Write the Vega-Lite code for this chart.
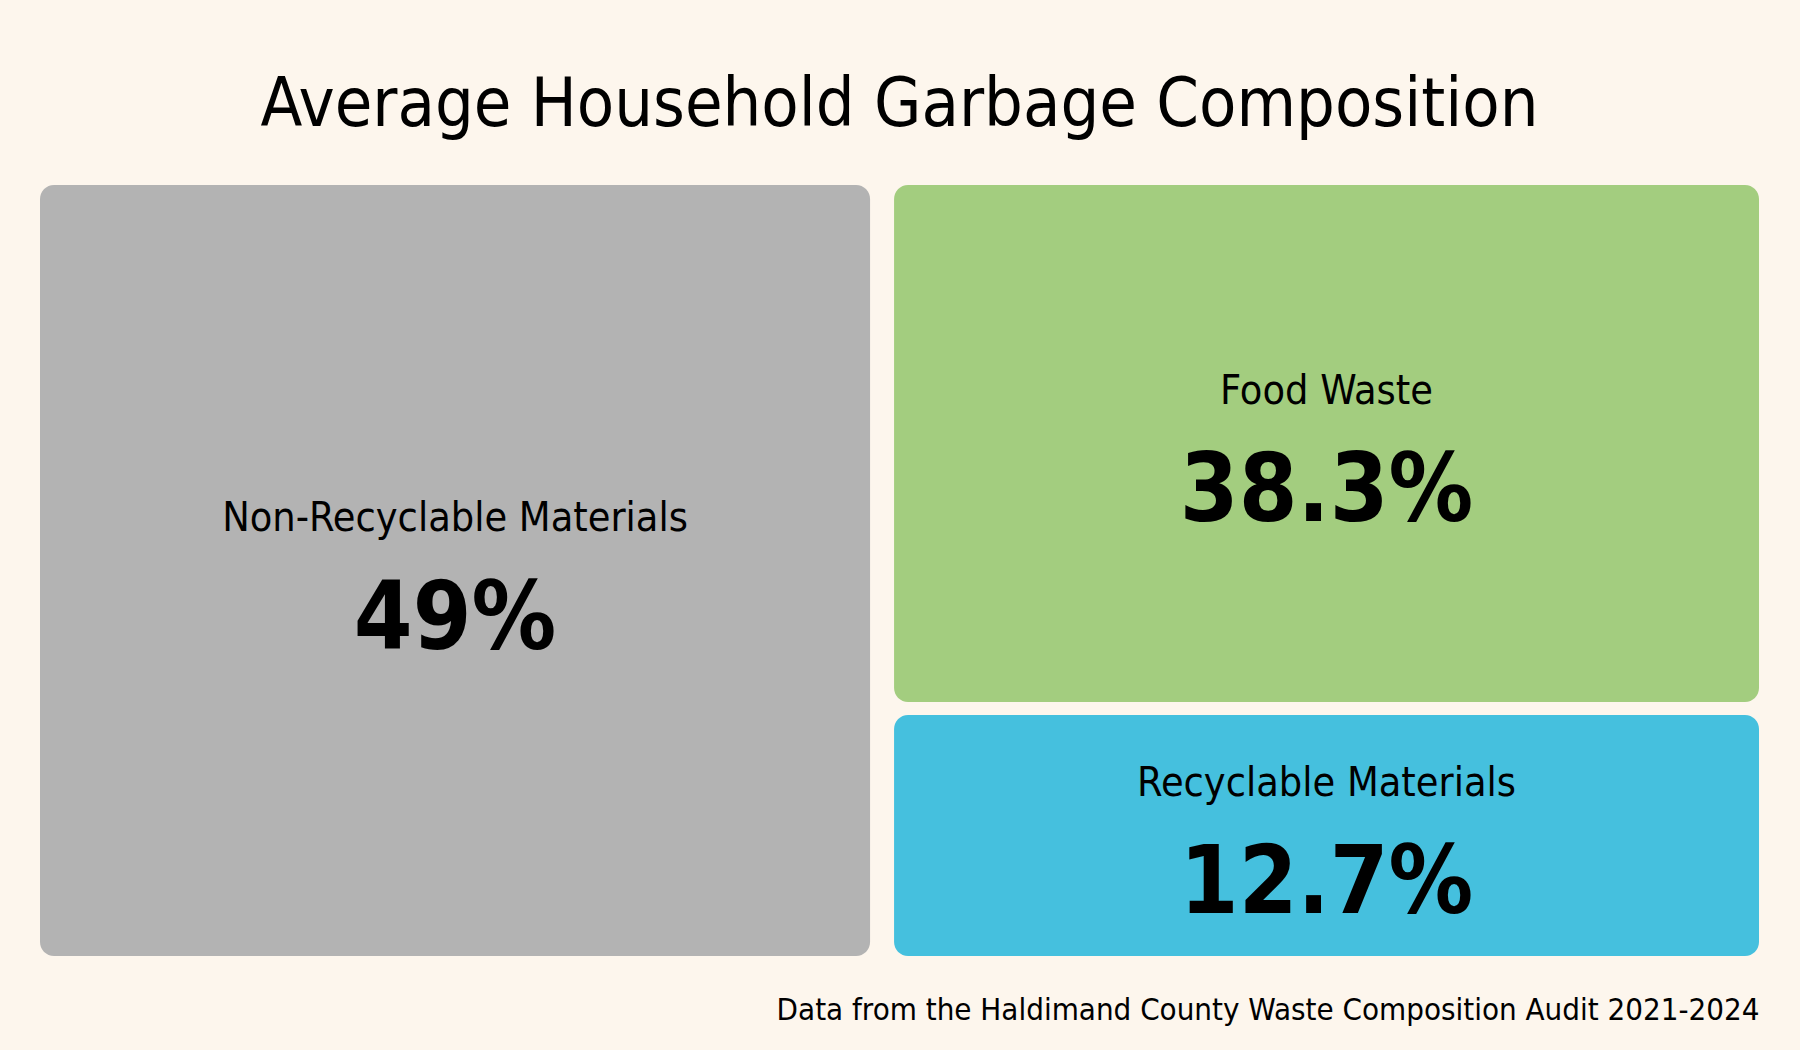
{
  "$schema": "https://vega.github.io/schema/vega-lite/v6.json",
  "width": 1743,
  "height": 784,
  "autosize": {"type": "none"},
  "padding": {"left": 40, "top": 185, "right": 17, "bottom": 81},
  "background": "#fdf6ed",
  "title": {
    "text": "Average Household Garbage Composition",
    "font": "DejaVu Sans Condensed, sans-serif",
    "fontSize": 68,
    "fontWeight": "normal",
    "color": "#000000",
    "anchor": "middle",
    "frame": "group",
    "baseline": "alphabetic",
    "offset": -9,
    "dx": -12
  },
  "config": {
    "view": {"stroke": null},
    "axis": {"grid": false}
  },
  "data": {
    "values": [
      {"category": "Non-Recyclable Materials", "value": 49, "x0": 0, "x1": 49, "y0": 0, "y1": 100},
      {"category": "Food Waste", "value": 38.3, "x0": 49, "x1": 100, "y0": 0, "y1": 67.6},
      {"category": "Recyclable Materials", "value": 12.7, "x0": 49, "x1": 100, "y0": 67.6, "y1": 100}
    ]
  },
  "transform": [
    {"calculate": "(datum.x0 + datum.x1) / 2", "as": "cx"},
    {"calculate": "(datum.y0 + datum.y1) / 2", "as": "cy"},
    {"calculate": "datum.value + '%'", "as": "pct"}
  ],
  "layer": [
    {
      "mark": {"type": "rect", "cornerRadius": 14, "x2Offset": -24, "y2Offset": -13},
      "encoding": {
        "x": {
          "field": "x0", "type": "quantitative",
          "scale": {"domain": [0, 100], "nice": false, "zero": true},
          "axis": {
            "domain": false, "ticks": false, "labels": false, "grid": false,
            "title": "Data from the Haldimand County Waste Composition Audit 2021-2024",
            "titleFont": "DejaVu Sans Condensed, sans-serif",
            "titleFontSize": 31,
            "titleFontWeight": "normal",
            "titleColor": "#000000",
            "titleAlign": "right",
            "titleAnchor": "end",
            "titleBaseline": "alphabetic",
            "titleX": 1719,
            "titleY": 50
          }
        },
        "x2": {"field": "x1"},
        "y": {
          "field": "y0", "type": "quantitative",
          "scale": {"domain": [0, 100], "nice": false, "reverse": true},
          "axis": null
        },
        "y2": {"field": "y1"},
        "color": {
          "field": "category", "type": "nominal",
          "scale": {
            "domain": ["Non-Recyclable Materials", "Food Waste", "Recyclable Materials"],
            "range": ["#b3b3b3", "#a3cd7f", "#45c0de"]
          },
          "legend": null
        }
      }
    },
    {
      "mark": {
        "type": "text",
        "font": "DejaVu Sans Condensed, sans-serif",
        "fontSize": 41,
        "fontWeight": "normal",
        "color": "#000000",
        "align": "center",
        "baseline": "alphabetic",
        "dx": -12,
        "dy": -46
      },
      "encoding": {
        "x": {"field": "cx", "type": "quantitative"},
        "y": {"field": "cy", "type": "quantitative"},
        "text": {"field": "category"}
      }
    },
    {
      "mark": {
        "type": "text",
        "font": "DejaVu Sans Condensed, sans-serif",
        "fontSize": 94,
        "fontWeight": "bold",
        "color": "#000000",
        "align": "center",
        "baseline": "alphabetic",
        "dx": -12,
        "dy": 71.5
      },
      "encoding": {
        "x": {"field": "cx", "type": "quantitative"},
        "y": {"field": "cy", "type": "quantitative"},
        "text": {"field": "pct"}
      }
    }
  ]
}
